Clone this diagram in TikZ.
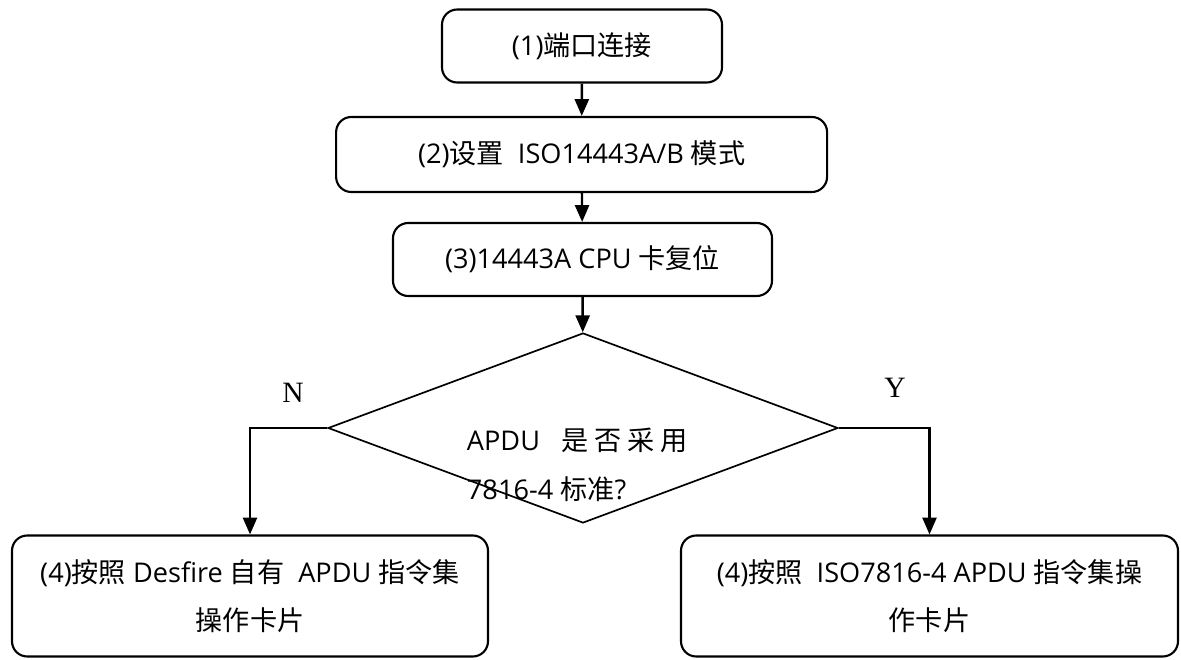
\documentclass[tikz,border=0pt]{standalone}
\usepackage{fontspec}
\setmainfont{Open Sans}
\newfontfamily\cjk{Noto Sans CJK SC}
\newfontfamily\ynfont{Liberation Serif}
\usepackage{tikz}
\usetikzlibrary{arrows.meta,shapes.geometric}

\tikzset{
  stepbox/.style={draw,line width=1.5pt,rounded corners=0.38cm,inner sep=0pt,align=center},
  flow/.style={line width=1.7pt,-{Triangle[length=12pt,width=10pt]}},
  yn/.style={font=\ynfont\fontsize{21}{21}\selectfont}
}

\begin{document}
\begin{tikzpicture}[font=\fontsize{19.3}{34.5}\selectfont]
\useasboundingbox (0,0) rectangle (29.525,16.475);

\node [stepbox,minimum width=7cm,minimum height=1.825cm] (connect) at (14.55,15.325) {(1){\cjk 端口连接}};
\node [stepbox,minimum width=12.275cm,minimum height=1.875cm] (mode) at (14.54,12.6125) {(2){\cjk 设置}\ \ ISO14443A/B {\cjk 模式}};
\node [stepbox,minimum width=9.475cm,minimum height=1.825cm] (reset) at (14.5625,9.9875) {(3)14443A CPU {\cjk 卡复位}};

\node [draw,diamond,line width=1.2pt,minimum width=12.75cm,minimum height=4.75cm,inner sep=0pt] (ask) at (14.575,5.775) {};
\node [anchor=west,align=left] (asktext) at (11.55,4.85) {APDU\ \ \ {\cjk 是 否 采 用}\\7816-4 {\cjk 标准}?};

\node [stepbox,minimum width=11.9cm,minimum height=3.025cm] (own) at (6.25,1.575) {(4){\cjk 按照} Desfire {\cjk 自有}\ \ APDU {\cjk 指令集}\\{\cjk 操作卡片}};
\node [stepbox,minimum width=12.425cm,minimum height=3.025cm] (iso) at (23.2375,1.575) {(4){\cjk 按照}\ \ ISO7816-4 APDU {\cjk 指令集操}\\{\cjk 作卡片}};

\draw [flow] (connect) -- (mode);
\draw [flow] (mode) -- (reset);
\draw [flow] (reset) -- (ask);
\draw [flow] (ask.west) -| (own.north);
\draw [flow] (ask.east) -| (iso.north);

\node [yn] (no) at (7.325,6.65) {N};
\node [yn] (yes) at (22.375,6.775) {Y};

\end{tikzpicture}
\end{document}
